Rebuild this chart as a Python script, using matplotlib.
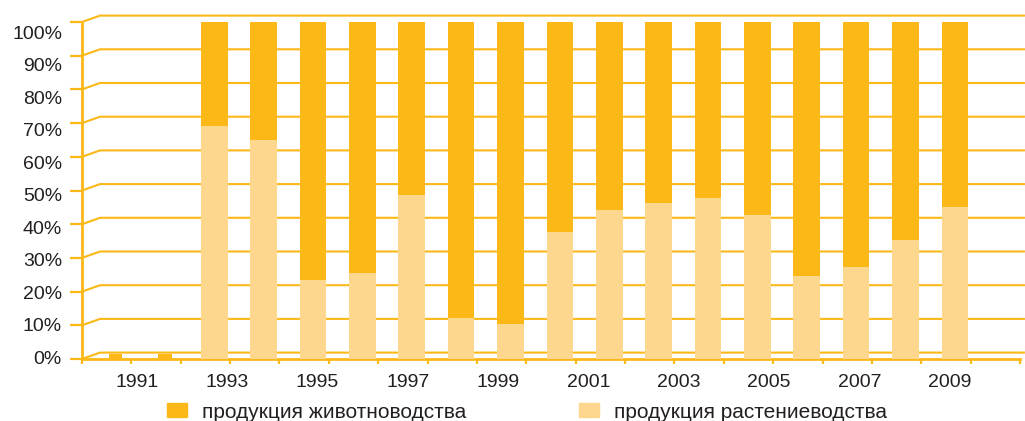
import numpy as np
import matplotlib
matplotlib.use('Agg')
import matplotlib.pyplot as plt
from matplotlib.patches import Patch

plt.rcParams['font.family'] = ['Liberation Sans', 'DejaVu Sans']

# Data: share of agricultural output, %
years = list(range(1991, 2010))
crop = [0, 0, 69.0, 64.9, 23.4, 25.5, 48.7, 12.2, 10.4, 37.8,
        44.2, 46.4, 47.9, 42.7, 24.7, 27.2, 35.3, 45.1, 0]
livestock = [1.5, 1.5, 31.0, 35.1, 76.6, 74.5, 51.3, 87.8, 89.6, 62.2,
             55.8, 53.6, 52.1, 57.3, 75.3, 72.8, 64.7, 54.9, 0]
label_years = list(range(1991, 2010, 2))
y_ticks = list(range(0, 101, 10))

label_live = 'продукция животноводства'
label_crop = 'продукция растениеводства'

# Colours
dark = '#FBB817'
light = '#FDD78E'
text_col = '#231F20'

W, H = 1025, 421
fig = plt.figure(figsize=(W / 100, H / 100), dpi=100)
ax = fig.add_axes([82 / W, (H - 359) / H, (1020 - 82) / W, 337 / H])

n = len(years)
idx = np.arange(n)
crop = np.array(crop)
livestock = np.array(livestock)

# bars sit a little to the right of the slot (pseudo-3D depth)
xpos = idx + 0.18
widths = np.where(crop > 0, 0.54, 0.28)
ax.bar(xpos, crop, width=widths, color=light, zorder=3)
ax.bar(xpos, livestock, width=widths, bottom=crop, color=dark, zorder=3)

ax.set_xlim(-0.5, n - 0.5)
ax.set_ylim(0, 100)

# back-wall gridlines with the small diagonal near the axis
dx, dy = 0.365, 1.9
for v in y_ticks:
    ax.plot([-0.5, -0.5 + dx, n - 0.4], [v, v + dy, v + dy], color=dark,
            lw=1.5, zorder=1, clip_on=False, solid_capstyle='butt')

for s in ['top', 'right']:
    ax.spines[s].set_visible(False)
for s in ['left', 'bottom']:
    ax.spines[s].set_color(dark)
    ax.spines[s].set_linewidth(2)

ax.set_yticks(y_ticks)
ax.tick_params(axis='y', length=8.6, width=1.6, color=dark, labelleft=False)
ax.set_xticks([])
ax.set_xticks(np.arange(-0.5, n, 1), minor=True)
ax.tick_params(axis='x', which='minor', length=3.6, width=1.6, color=dark,
               labelbottom=False)

# year labels (placed as in the original, slightly compressed)
ax_x = ax.twiny()
ax_x.set_xlim(1989.79, 2010.55)
ax_x.set_xticks(label_years)
ax_x.set_xticklabels([str(y) for y in label_years])
ax_x.xaxis.set_ticks_position('bottom')
ax_x.xaxis.set_label_position('bottom')
ax_x.tick_params(axis='x', length=0, pad=10.8, labelsize=14, labelcolor=text_col)
for s in ax_x.spines.values():
    s.set_visible(False)

# percent labels
ax_y = ax.twinx()
ax_y.set_ylim(-0.6, 103.1)
ax_y.set_yticks(y_ticks)
ax_y.set_yticklabels([f'{v}%' for v in y_ticks])
ax_y.yaxis.tick_left()
ax_y.tick_params(axis='y', length=0, pad=14.4, labelsize=14, labelcolor=text_col)
for s in ax_y.spines.values():
    s.set_visible(False)

handles = [Patch(color=dark, label=label_live), Patch(color=light, label=label_crop)]
leg = fig.legend(handles=handles, loc='center left', bbox_to_anchor=(167 / W, 9 / H),
                 ncol=2, frameon=False, fontsize=15, handlelength=0.96,
                 handleheight=0.67, handletextpad=0.72, columnspacing=5.4,
                 borderpad=0, borderaxespad=0)
for t in leg.get_texts():
    t.set_color(text_col)

fig.savefig('out.png', dpi=100)
